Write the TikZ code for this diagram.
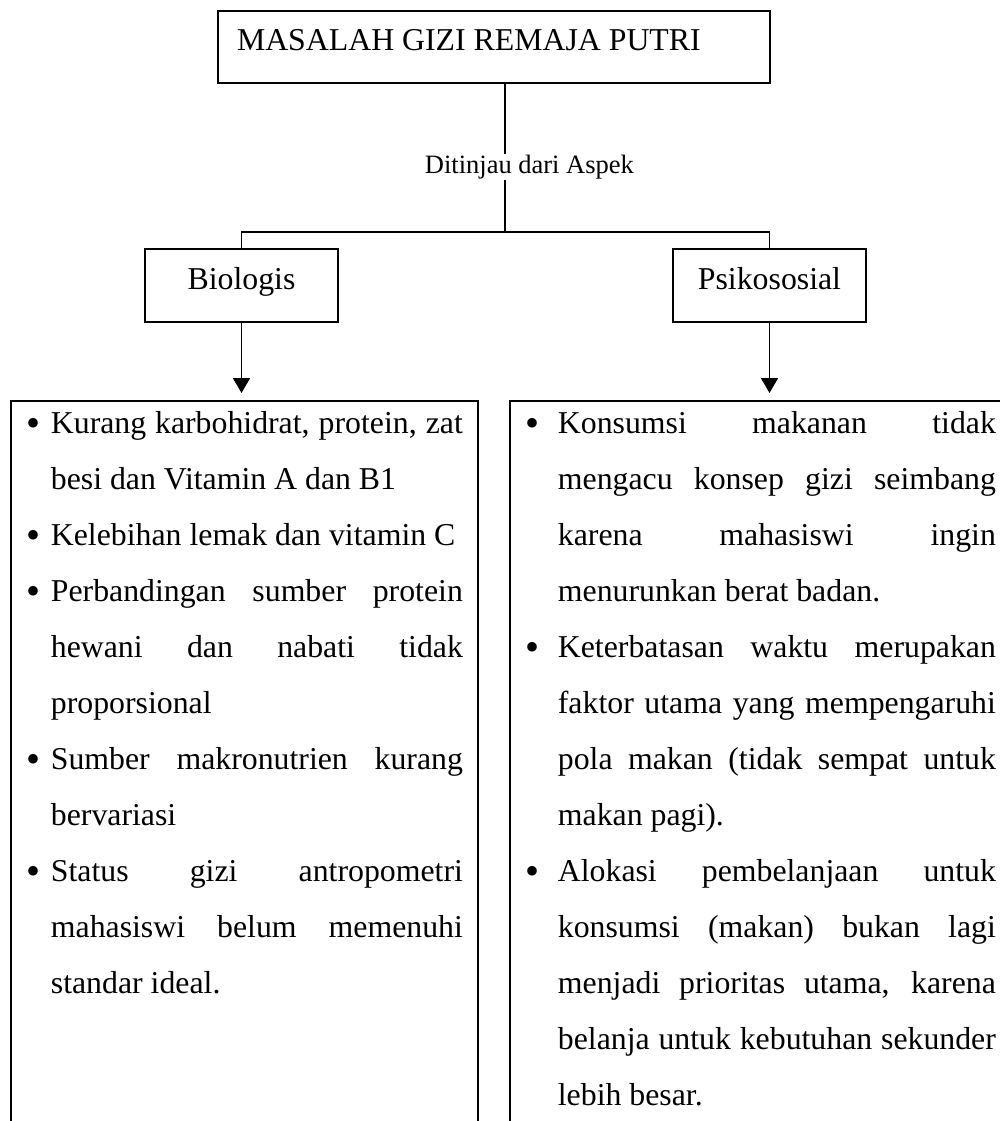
\documentclass[tikz,border=0pt]{standalone}
\usepackage{fontspec}
\setmainfont{Liberation Serif}
\usetikzlibrary{arrows.meta}
\newcommand{\jl}[2]{\leavevmode\hbox to #1{\spaceskip=.25em plus 1fil\relax #2}}
\newcommand{\bigbul}{{\fontsize{40}{56}\selectfont\raisebox{-2.5pt}{\textbullet}}}
\newcommand{\lbul}{\leavevmode\llap{\bigbul\hspace{10.5pt}}}
\newcommand{\rbul}{\leavevmode\llap{\bigbul\hspace{18.5pt}}}
\newcommand{\normsp}{\spaceskip=0pt\xspaceskip=0pt\relax}
\begin{document}
\begin{tikzpicture}[x=1pt,y=-1pt,
  line width=1.8pt,
  boxst/.style={draw, line width=2pt, inner sep=0pt},
  bodyfont/.style={font=\fontsize{31.8}{56}\selectfont},
  listst/.style={bodyfont, anchor=north west, inner sep=0pt, align=left},
  arr/.style={-{Triangle[width=17pt,length=15pt]}, shorten >=8pt}]
\useasboundingbox (0,0) rectangle (999,1121);

% title
\node[boxst, bodyfont, anchor=north west, minimum width=552pt, minimum height=72pt,
      text width=514pt, inner xsep=19pt, align=left, text height=22pt, text depth=14pt]
  (title) at (217,10) {\normsp MASALAH GIZI REMAJA PUTRI};

% aspect boxes
\node[boxst, bodyfont, minimum width=193pt, minimum height=73pt, text height=22pt, text depth=15pt]
  (bio) at (241.5,285.5) {Biologis};
\node[boxst, bodyfont, minimum width=193pt, minimum height=73pt, text height=22pt, text depth=15pt]
  (psi) at (769.5,285.5) {Psikososial};

% junction
\coordinate (j) at (505,232);
\draw (title.south -| j) -- (j);
\node[anchor=base west, fill=white, inner xsep=0pt, inner ysep=1pt,
      font=\fontsize{26.5}{30}\selectfont] (aspek) at (424,173) {Ditinjau dari Aspek};
\draw[line join=miter] (bio.north) -- (bio.north |- j) -- (psi.north |- j) -- (psi.north);

% bottom open boxes
\node[anchor=north west, minimum width=465pt, minimum height=720pt, inner sep=0pt] (leftbox) at (11,401) {};
\node[anchor=north west, minimum width=500pt, minimum height=720pt, inner sep=0pt] (rightbox) at (510,401) {};
\draw[line width=2pt, line join=miter] (leftbox.south west) -- (leftbox.north west) -- (leftbox.north east) -- (leftbox.south east);
\draw[line width=2pt, line join=miter] (rightbox.south west) -- (rightbox.north west) -- (rightbox.north east);

% arrows
\draw[arr] (bio.south) -- (bio.south |- leftbox.north);
\draw[arr] (psi.south) -- (psi.south |- rightbox.north);

% lists
\node[listst, text width=414pt] (leftlist) at (50,393.8) {\normsp
\strut\lbul\jl{412pt}{Kurang karbohidrat, protein, zat}\\
besi dan Vitamin A dan B1\\
\lbul Kelebihan lemak dan vitamin C\\
\lbul\jl{412pt}{Perbandingan sumber protein}\\
\jl{412pt}{hewani dan nabati tidak}\\
proporsional\\
\lbul\jl{412pt}{Sumber makronutrien kurang}\\
bervariasi\\
\lbul\jl{412pt}{Status gizi antropometri}\\
\jl{412pt}{mahasiswi belum memenuhi}\\
standar ideal.};

\node[listst, text width=440pt] (rightlist) at (557,393.8) {\normsp
\strut\rbul\jl{438pt}{Konsumsi makanan tidak}\\
\jl{438pt}{mengacu konsep gizi seimbang}\\
\jl{438pt}{karena mahasiswi ingin}\\
menurunkan berat badan.\\
\rbul\jl{438pt}{Keterbatasan waktu merupakan}\\
\jl{438pt}{faktor utama yang mempengaruhi}\\
\jl{438pt}{pola makan (tidak sempat untuk}\\
makan pagi).\\
\rbul\jl{438pt}{Alokasi pembelanjaan untuk}\\
\jl{438pt}{konsumsi (makan) bukan lagi}\\
\jl{438pt}{menjadi prioritas utama, karena}\\
\jl{438pt}{belanja untuk kebutuhan sekunder}\\
lebih besar.};
\end{tikzpicture}
\end{document}
